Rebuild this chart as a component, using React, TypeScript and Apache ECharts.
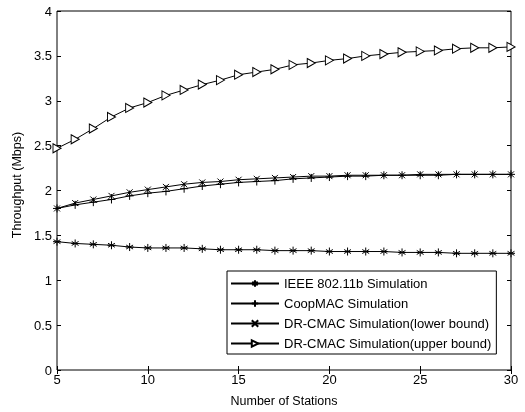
import React, { useEffect, useRef } from "react";
import * as echarts from "echarts";

const stations = [5, 6, 7, 8, 9, 10, 11, 12, 13, 14, 15, 16, 17, 18, 19, 20, 21, 22, 23, 24, 25, 26, 27, 28, 29, 30];
const ieee = [1.43, 1.41, 1.40, 1.39, 1.37, 1.36, 1.36, 1.36, 1.35, 1.34, 1.34, 1.34, 1.33, 1.33, 1.33, 1.32, 1.32, 1.32, 1.32, 1.31, 1.31, 1.31, 1.30, 1.30, 1.30, 1.30];
const coopmac = [1.80, 1.84, 1.87, 1.90, 1.94, 1.97, 1.99, 2.02, 2.05, 2.07, 2.09, 2.10, 2.11, 2.13, 2.14, 2.15, 2.16, 2.16, 2.17, 2.17, 2.17, 2.17, 2.18, 2.18, 2.18, 2.18];
const drLower = [1.80, 1.86, 1.90, 1.94, 1.98, 2.01, 2.04, 2.07, 2.09, 2.10, 2.12, 2.13, 2.14, 2.15, 2.16, 2.16, 2.17, 2.17, 2.17, 2.17, 2.18, 2.18, 2.18, 2.18, 2.18, 2.18];
const drUpper = [2.47, 2.57, 2.69, 2.82, 2.92, 2.98, 3.06, 3.12, 3.18, 3.23, 3.29, 3.32, 3.35, 3.40, 3.42, 3.45, 3.47, 3.50, 3.52, 3.54, 3.55, 3.56, 3.58, 3.59, 3.59, 3.60];
const seriesNames = [
  "IEEE 802.11b Simulation",
  "CoopMAC Simulation",
  "DR-CMAC Simulation(lower bound)",
  "DR-CMAC Simulation(upper bound)",
];

const FONT = "Liberation Sans, Arial, Helvetica, sans-serif";

export default function App() {
  const ref = useRef<HTMLDivElement>(null);
  useEffect(() => {
    if (!ref.current) return;
    const chart = echarts.init(ref.current, undefined, { renderer: "svg" });
    const pairs = (ys: number[]) => stations.map((x, i) => [x, ys[i]]);
    const mk = (name: string, ys: number[], symbol: string, size: any, fill: string) => ({
      name,
      type: "line",
      data: pairs(ys),
      symbol,
      symbolSize: size,
      showSymbol: true,
      lineStyle: { color: "#000", width: 1 },
      itemStyle: { color: fill, borderColor: "#000", borderWidth: 1 },
      emphasis: { disabled: true },
    });
    chart.setOption({
      animation: false,
      textStyle: { fontFamily: FONT },
      grid: { left: 57, right: 14, top: 11, bottom: 41, show: true, borderColor: "#000", borderWidth: 1, backgroundColor: "#fff" },
      xAxis: [
        {
          type: "value",
          min: 5,
          max: 30,
          interval: 5,
          name: "Number of Stations",
          nameLocation: "middle",
          nameGap: 24,
          nameTextStyle: { color: "#000", fontSize: 12.5, fontFamily: FONT },
          axisLine: { show: false },
          axisTick: { inside: true, length: 4, lineStyle: { color: "#000" } },
          axisLabel: { color: "#000", fontSize: 13, margin: 3, fontFamily: FONT },
          splitLine: { show: false },
        },
        {
          type: "value",
          position: "top",
          min: 5,
          max: 30,
          interval: 5,
          axisLine: { show: false },
          axisTick: { inside: true, length: 4, lineStyle: { color: "#000" } },
          axisLabel: { show: false },
          splitLine: { show: false },
        },
      ],
      yAxis: [
        {
          type: "value",
          min: 0,
          max: 4,
          interval: 0.5,
          axisLine: { show: false },
          axisTick: { inside: true, length: 4, lineStyle: { color: "#000" } },
          axisLabel: { color: "#000", fontSize: 13, margin: 5, fontFamily: FONT },
          splitLine: { show: false },
        },
        {
          type: "value",
          position: "right",
          min: 0,
          max: 4,
          interval: 0.5,
          axisLine: { show: false },
          axisTick: { inside: true, length: 4, lineStyle: { color: "#000" } },
          axisLabel: { show: false },
          splitLine: { show: false },
        },
      ],
      legend: {
        orient: "vertical",
        left: 227,
        top: 271,
        itemWidth: 48,
        itemHeight: 8,
        itemGap: 7,
        padding: [6, 5, 4, 3],
        borderColor: "#000",
        borderWidth: 1,
        backgroundColor: "#fff",
        textStyle: { color: "#000", fontSize: 13, fontFamily: FONT },
        data: seriesNames,
      },
      graphic: [
        {
          type: "text",
          x: 17,
          y: 185,
          rotation: Math.PI / 2,
          style: {
            text: "Throughput (Mbps)",
            fill: "#000",
            font: "12.5px " + FONT,
            textAlign: "center",
            textVerticalAlign: "middle",
          },
        },
      ],
      series: [
        mk(seriesNames[0], ieee, "path://M5,0L5,10M0.7,2.5L9.3,7.5M0.7,7.5L9.3,2.5M0,5L10,5", 8, "#000"),
        mk(seriesNames[1], coopmac, "path://M5,0L5,10M0,5L10,5", 8, "#000"),
        mk(seriesNames[2], drLower, "path://M0,0L10,10M0,10L10,0M5,2L5,8", 6, "#000"),
        mk(seriesNames[3], drUpper, "path://M0,0L10,5L0,10Z", [8, 9], "#fff"),
      ],
    });
    return () => chart.dispose();
  }, []);
  return <div ref={ref} style={{ position: "fixed", left: 0, top: 0, width: 525, height: 412 }} />;
}
